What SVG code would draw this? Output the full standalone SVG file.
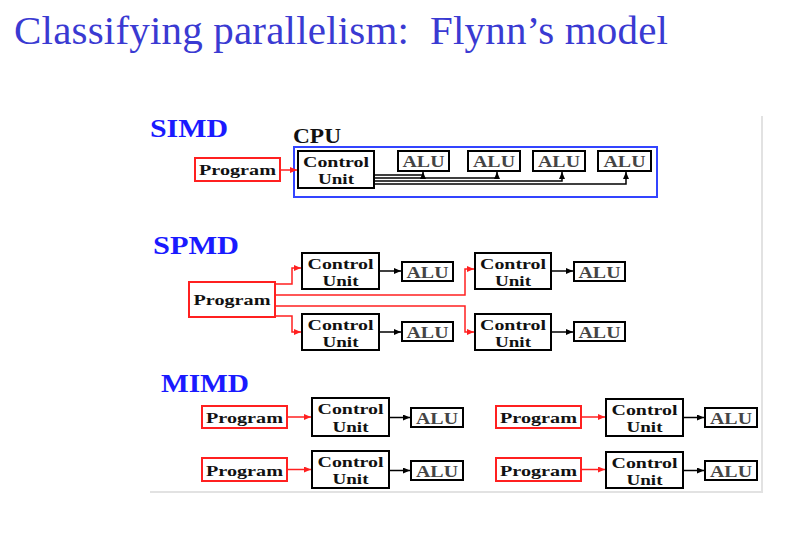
<svg xmlns="http://www.w3.org/2000/svg" width="790" height="537" viewBox="0 0 790 537">
<style>
.t{font-family:"Liberation Serif","Times New Roman",serif;}
.title{font-size:41px;fill:#3a3ad2;}
.lbl{font-size:26px;font-weight:bold;fill:#1a1aff;}
.bx{fill:#fff;stroke:#000;stroke-width:2;}
.rb{fill:#fff;stroke:#ff2020;stroke-width:2;}
.tx{font-size:15px;font-weight:bold;fill:#111;text-anchor:middle;}
.alu{font-size:16px;font-weight:bold;fill:#444;text-anchor:middle;}
.bl{fill:none;stroke:#000;stroke-width:1.5;}
.rl{fill:none;stroke:#ff2020;stroke-width:1.5;}
.panel{stroke:#e2e2e2;stroke-width:2;fill:none;}
</style>
<defs>
<marker id="ab" markerUnits="userSpaceOnUse" markerWidth="7" markerHeight="6" refX="7" refY="3" orient="auto"><path d="M0,0 L7,3 L0,6 z" fill="#000"/></marker>
<marker id="ar" markerUnits="userSpaceOnUse" markerWidth="7" markerHeight="6" refX="7" refY="3" orient="auto"><path d="M0,0 L7,3 L0,6 z" fill="#ff2020"/></marker>
</defs>
<rect width="790" height="537" fill="#fff"/>
<text class="t title" x="14" y="44" xml:space="preserve" textLength="654">Classifying parallelism:  Flynn’s model</text>
<path class="panel" d="M762,116 V492 H150"/>

<!-- SIMD -->
<text class="t lbl" x="150" y="137" textLength="78" lengthAdjust="spacingAndGlyphs">SIMD</text>
<g id="cpu">
<text class="t" x="293" y="143" font-size="20" font-weight="bold" fill="#111" textLength="48" lengthAdjust="spacingAndGlyphs">CPU</text>
<rect x="294" y="147" width="363" height="50" fill="none" stroke="#3344ff" stroke-width="2"/>
</g>
<g id="simd-program"><rect class="rb" x="195" y="158" width="85" height="23"/><text class="t tx" x="237.5" y="175" textLength="77" lengthAdjust="spacingAndGlyphs">Program</text></g>
<g id="simd-cu"><rect class="bx" x="298" y="151" width="76" height="37"/><text class="t tx" x="336" y="167" textLength="66" lengthAdjust="spacingAndGlyphs">Control</text><text class="t tx" x="336" y="184" textLength="36" lengthAdjust="spacingAndGlyphs">Unit</text></g>
<g id="simd-alu1"><rect class="bx" x="398" y="151" width="51" height="20"/><text class="t alu" x="423.5" y="167" textLength="42" lengthAdjust="spacingAndGlyphs">ALU</text></g>
<g id="simd-alu2"><rect class="bx" x="468" y="151" width="52" height="20"/><text class="t alu" x="494" y="167" textLength="42" lengthAdjust="spacingAndGlyphs">ALU</text></g>
<g id="simd-alu3"><rect class="bx" x="533" y="151" width="52" height="20"/><text class="t alu" x="559" y="167" textLength="42" lengthAdjust="spacingAndGlyphs">ALU</text></g>
<g id="simd-alu4"><rect class="bx" x="598" y="151" width="53" height="20"/><text class="t alu" x="624.5" y="167" textLength="42" lengthAdjust="spacingAndGlyphs">ALU</text></g>

<!-- SPMD -->
<text class="t lbl" x="153" y="254" textLength="86" lengthAdjust="spacingAndGlyphs">SPMD</text>
<g id="spmd-program"><rect class="rb" x="189" y="282" width="86" height="35"/><text class="t tx" x="232" y="305" textLength="77" lengthAdjust="spacingAndGlyphs">Program</text></g>
<g id="spmd-cu1"><rect class="bx" x="302" y="253" width="77" height="36"/><text class="t tx" x="340.5" y="269" textLength="66" lengthAdjust="spacingAndGlyphs">Control</text><text class="t tx" x="340.5" y="286" textLength="36" lengthAdjust="spacingAndGlyphs">Unit</text></g>
<g id="spmd-alu1"><rect class="bx" x="402" y="262" width="51" height="19"/><text class="t alu" x="427.5" y="277.5" textLength="42" lengthAdjust="spacingAndGlyphs">ALU</text></g>
<g id="spmd-cu2"><rect class="bx" x="302" y="314" width="77" height="36"/><text class="t tx" x="340.5" y="330" textLength="66" lengthAdjust="spacingAndGlyphs">Control</text><text class="t tx" x="340.5" y="347" textLength="36" lengthAdjust="spacingAndGlyphs">Unit</text></g>
<g id="spmd-alu2"><rect class="bx" x="402" y="322" width="51" height="19"/><text class="t alu" x="427.5" y="337.5" textLength="42" lengthAdjust="spacingAndGlyphs">ALU</text></g>
<g id="spmd-cu3"><rect class="bx" x="475" y="253" width="76" height="36"/><text class="t tx" x="513" y="269" textLength="66" lengthAdjust="spacingAndGlyphs">Control</text><text class="t tx" x="513" y="286" textLength="36" lengthAdjust="spacingAndGlyphs">Unit</text></g>
<g id="spmd-alu3"><rect class="bx" x="574" y="262" width="51" height="19"/><text class="t alu" x="599.5" y="277.5" textLength="42" lengthAdjust="spacingAndGlyphs">ALU</text></g>
<g id="spmd-cu4"><rect class="bx" x="475" y="314" width="76" height="36"/><text class="t tx" x="513" y="330" textLength="66" lengthAdjust="spacingAndGlyphs">Control</text><text class="t tx" x="513" y="347" textLength="36" lengthAdjust="spacingAndGlyphs">Unit</text></g>
<g id="spmd-alu4"><rect class="bx" x="574" y="322" width="51" height="19"/><text class="t alu" x="599.5" y="337.5" textLength="42" lengthAdjust="spacingAndGlyphs">ALU</text></g>

<!-- MIMD -->
<text class="t lbl" x="161" y="392" textLength="88" lengthAdjust="spacingAndGlyphs">MIMD</text>
<g id="mimd-p1"><rect class="rb" x="202" y="406" width="85" height="22"/><text class="t tx" x="244.5" y="423" textLength="77" lengthAdjust="spacingAndGlyphs">Program</text></g>
<g id="mimd-cu1"><rect class="bx" x="312" y="398" width="77" height="38"/><text class="t tx" x="350.5" y="414" textLength="66" lengthAdjust="spacingAndGlyphs">Control</text><text class="t tx" x="350.5" y="432" textLength="36" lengthAdjust="spacingAndGlyphs">Unit</text></g>
<g id="mimd-alu1"><rect class="bx" x="411" y="408" width="52" height="19"/><text class="t alu" x="437" y="423.5" textLength="42" lengthAdjust="spacingAndGlyphs">ALU</text></g>
<g id="mimd-p2"><rect class="rb" x="202" y="458" width="85" height="23"/><text class="t tx" x="244.5" y="475.5" textLength="77" lengthAdjust="spacingAndGlyphs">Program</text></g>
<g id="mimd-cu2"><rect class="bx" x="312" y="451" width="77" height="37"/><text class="t tx" x="350.5" y="467" textLength="66" lengthAdjust="spacingAndGlyphs">Control</text><text class="t tx" x="350.5" y="484" textLength="36" lengthAdjust="spacingAndGlyphs">Unit</text></g>
<g id="mimd-alu2"><rect class="bx" x="411" y="461" width="52" height="19"/><text class="t alu" x="437" y="476.5" textLength="42" lengthAdjust="spacingAndGlyphs">ALU</text></g>
<g id="mimd-p3"><rect class="rb" x="496" y="406" width="85" height="22"/><text class="t tx" x="538.5" y="423" textLength="77" lengthAdjust="spacingAndGlyphs">Program</text></g>
<g id="mimd-cu3"><rect class="bx" x="606" y="399" width="77" height="37"/><text class="t tx" x="644.5" y="415" textLength="66" lengthAdjust="spacingAndGlyphs">Control</text><text class="t tx" x="644.5" y="432" textLength="36" lengthAdjust="spacingAndGlyphs">Unit</text></g>
<g id="mimd-alu3"><rect class="bx" x="705" y="408" width="52" height="19"/><text class="t alu" x="731" y="423.5" textLength="42" lengthAdjust="spacingAndGlyphs">ALU</text></g>
<g id="mimd-p4"><rect class="rb" x="496" y="458" width="85" height="23"/><text class="t tx" x="538.5" y="475.5" textLength="77" lengthAdjust="spacingAndGlyphs">Program</text></g>
<g id="mimd-cu4"><rect class="bx" x="606" y="452" width="77" height="36"/><text class="t tx" x="644.5" y="468" textLength="66" lengthAdjust="spacingAndGlyphs">Control</text><text class="t tx" x="644.5" y="485" textLength="36" lengthAdjust="spacingAndGlyphs">Unit</text></g>
<g id="mimd-alu4"><rect class="bx" x="705" y="461" width="52" height="19"/><text class="t alu" x="731" y="476.5" textLength="42" lengthAdjust="spacingAndGlyphs">ALU</text></g>

<g id="connectors">
<path class="rl" d="M281,170 H297" marker-end="url(#ar)"/>
<path class="bl" d="M375,175 H423 V172" marker-end="url(#ab)"/>
<path class="bl" d="M375,178 H497 V172" marker-end="url(#ab)"/>
<path class="bl" d="M375,181 H562 V172" marker-end="url(#ab)"/>
<path class="bl" d="M375,184 H626 V172" marker-end="url(#ab)"/>

<path class="rl" d="M276,284 H292 V268 H301" marker-end="url(#ar)"/>
<path class="rl" d="M276,295 H465 V269 H474" marker-end="url(#ar)"/>
<path class="rl" d="M276,306 H465 V332 H474" marker-end="url(#ar)"/>
<path class="rl" d="M276,316 H292 V332 H301" marker-end="url(#ar)"/>
<path class="bl" d="M380,271 H401" marker-end="url(#ab)"/>
<path class="bl" d="M380,332 H401" marker-end="url(#ab)"/>
<path class="bl" d="M552,271 H573" marker-end="url(#ab)"/>
<path class="bl" d="M552,332 H573" marker-end="url(#ab)"/>

<path class="rl" d="M288,417 H311" marker-end="url(#ar)"/>
<path class="rl" d="M288,469.5 H311" marker-end="url(#ar)"/>
<path class="rl" d="M582,417 H605" marker-end="url(#ar)"/>
<path class="rl" d="M582,469.5 H605" marker-end="url(#ar)"/>
<path class="bl" d="M390,417.5 H410" marker-end="url(#ab)"/>
<path class="bl" d="M390,470.5 H410" marker-end="url(#ab)"/>
<path class="bl" d="M684,417.5 H704" marker-end="url(#ab)"/>
<path class="bl" d="M684,470.5 H704" marker-end="url(#ab)"/>
</g>
</svg>
